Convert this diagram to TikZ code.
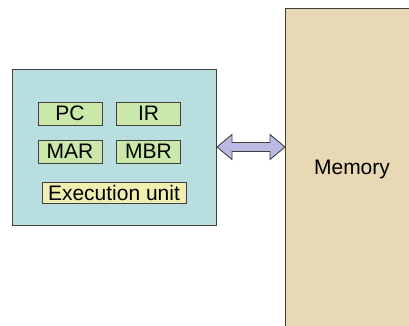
\documentclass[tikz,border=0pt]{standalone}
\usepackage{fontspec}
\setmainfont{Liberation Sans}
\usetikzlibrary{calc}
\definecolor{cpufill}{HTML}{B9DEE0}
\definecolor{memfill}{HTML}{E9D8B4}
\definecolor{regfill}{HTML}{CAE8AA}
\definecolor{exefill}{HTML}{EFF0B0}
\definecolor{busfill}{HTML}{BABAE4}
\definecolor{edge}{HTML}{404040}
\tikzset{
  box/.style={draw=edge, line width=0.9pt, inner sep=0pt, outer sep=0pt},
  reg/.style={box, fill=regfill, minimum width=64pt, minimum height=23pt,
    font=\fontsize{21}{24}\selectfont},
}
\begin{document}
\begin{tikzpicture}[x=1pt, y=-1pt]
  \useasboundingbox (0,0) rectangle (409,325);
  \fill[white] (0,0) rectangle (409,325);
  % processor
  \node[box, fill=cpufill, minimum width=204pt, minimum height=156pt] (cpu) at (114,147) {};
  \node[reg] (pc)  at (70,113.5)  {PC};
  \node[reg] (ir)  at (148.5,113.5) {IR};
  \node[reg] (mar) at (70,151.5)  {MAR};
  \node[reg] (mbr) at (148.5,151.5) {MBR};
  \node[reg, fill=exefill, minimum width=144pt, minimum height=21pt] (exe) at (114,193) {Execution unit};
  % memory
  \node[box, fill=memfill, minimum width=134pt, minimum height=322pt] (mem) at (352,169)
    {\fontsize{21}{24}\selectfont Memory};
  % bus between processor and memory
  \coordinate (l) at ([xshift=1pt]cpu.east);
  \coordinate (r) at (cpu.east -| mem.west);
  \draw[edge, line width=0.9pt, fill=busfill, line join=miter]
    (l) -- ++(15,-12.5) -- ++(0,8) -- ($(r)+(-15,-4.5)$) -- ++(0,-8) -- (r)
    -- ++(-15,12.5) -- ++(0,-8) -- ($(l)+(15,4.5)$) -- ++(0,8) -- cycle;
\end{tikzpicture}
\end{document}
